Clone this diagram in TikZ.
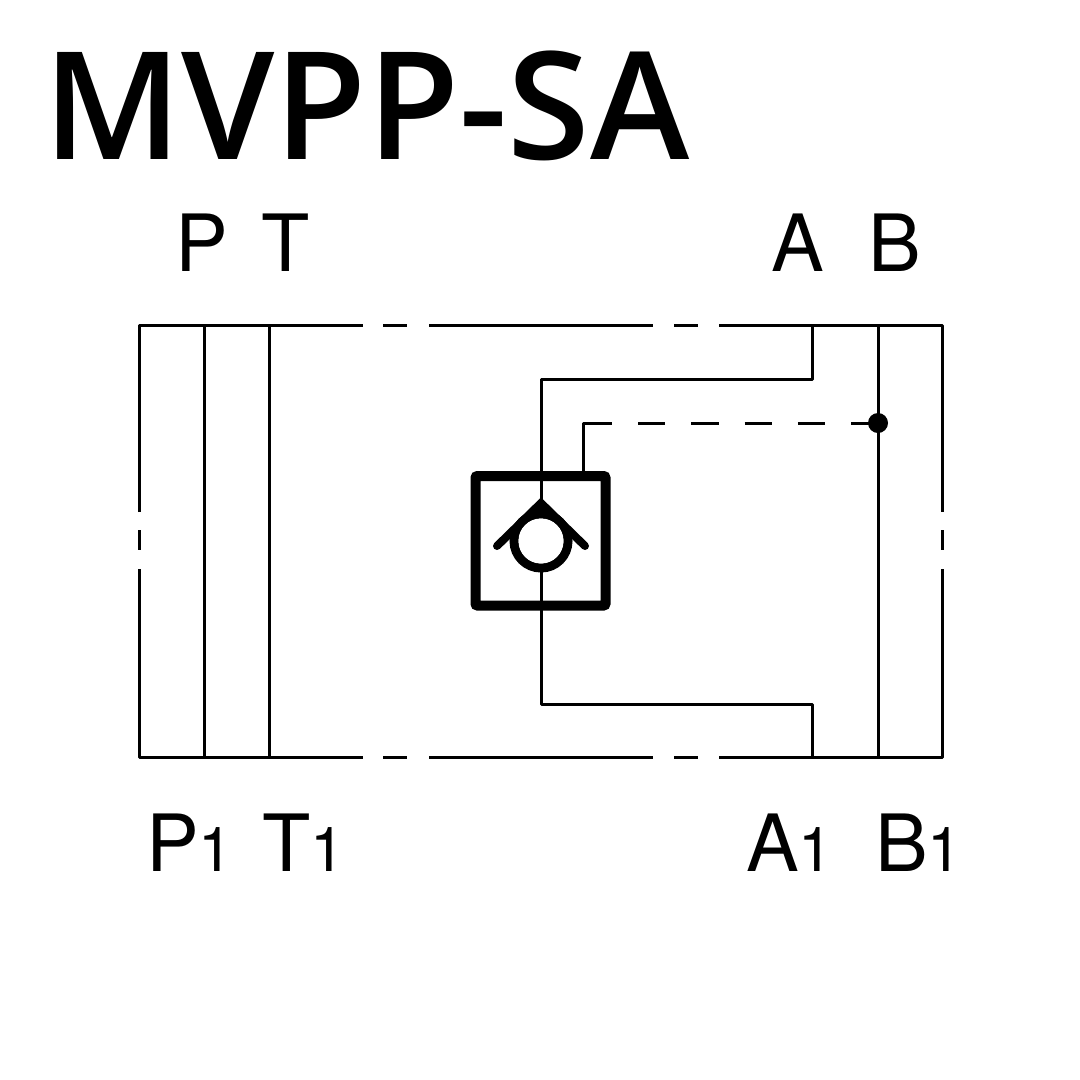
\documentclass[tikz,border=0pt]{standalone}
\usepackage{fontspec}
\setmainfont{TeX Gyre Heros}
\newfontfamily\titlefont{Open Sans Semibold}
\usetikzlibrary{positioning}
\tikzset{
  port/.style={inner sep=0pt, anchor=base west, font=\fontsize{79}{79}\selectfont},
  heading/.style={inner sep=0pt, anchor=base west, font=\titlefont\fontsize{150}{150}\selectfont},
  line/.style={line width=3pt, line join=round},
  pilot/.style={line width=3pt, dash pattern=on 27.3pt off 26pt},
  valve/.style={line width=10pt, rounded corners=2pt},
}
\newcommand{\low}{\fontsize{62}{62}\selectfont 1}

\begin{document}
\begin{tikzpicture}[x=1pt, y=-1pt]
        \useasboundingbox (0,0) rectangle (1080,1080);

        \node[heading] (title) at (43,159)  {MVPP-SA};

        \node[port]    (P)     at (175,271) {P};
        \node[port]    (T)     at (261,271) {T};
        \node[port]    (A)     at (771,271) {A};
        \node[port]    (B)     at (868,271) {B};

        \node[port]    (P1)    at (146,871) {P\low};
        \node[port]    (T1)    at (262,871) {T\low};
        \node[port]    (A1)    at (746,871) {A\low};
        \node[port]    (B1)    at (875,871) {B\low};

        \coordinate (tl) at (139,325);
        \coordinate (tr) at (942,325);
        \coordinate (bl) at (139,757);
        \coordinate (br) at (942,757);

        % block outline, broken in the middle
        \draw[line] (139,512) -- (tl) -- (363,325);
        \draw[line] (383,325) -- (407,325);
        \draw[line] (429,325) -- (653,325);
        \draw[line] (674,325) -- (698,325);
        \draw[line] (719,325) -- (tr) -- (942,512);
        \draw[line] (139,569) -- (bl) -- (363,757);
        \draw[line] (383,757) -- (407,757);
        \draw[line] (429,757) -- (653,757);
        \draw[line] (674,757) -- (698,757);
        \draw[line] (719,757) -- (br) -- (942,569);
        \draw[line] (139,530) -- (139,550);
        \draw[line] (942,530) -- (942,550);

        % through channels
        \draw[line] (204,325) -- (204,757);
        \draw[line] (269,325) -- (269,757);
        \draw[line] (878,325) -- (878,757);

        % channel A
        \draw[line] (812,325) -- (812,379) -- (541,379) -- (541,515);
        \draw[line] (541,572) -- (541,704) -- (812,704) -- (812,757);

        % pilot
        \coordinate (tap) at (878,423);
        \draw[line] (583,472) -- (583,423) -- (585,423);
        \draw[pilot] (584.7,423) -- (tap);
        \fill (tap) circle (10pt);

        % check valve
        \draw[valve] (475.5,476) rectangle (605.5,605.5);
        \draw[line width=9pt] (541,541) circle (27pt);
        \fill[white] (541,541) circle (22.5pt);
        \draw[line width=8pt, line cap=round, miter limit=4] (497,546) -- (541,503) -- (585,546);

      \end{tikzpicture}
\end{document}
